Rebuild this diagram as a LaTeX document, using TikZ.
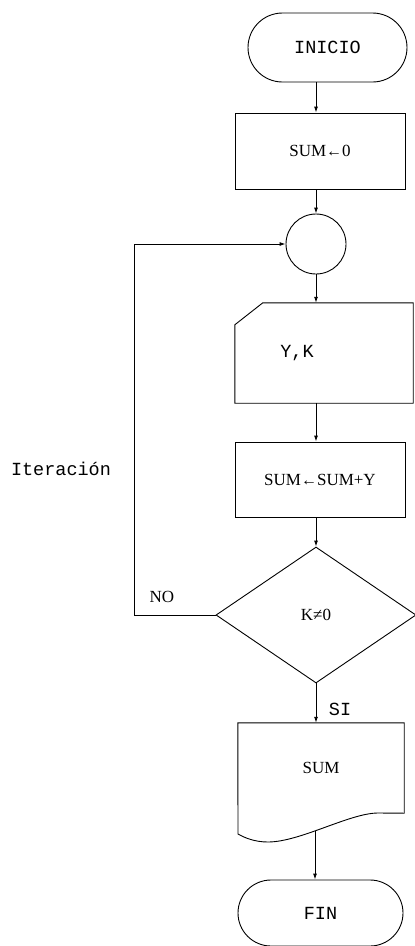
\documentclass[tikz,border=0pt]{standalone}
\usepackage{fontspec}
\setmainfont{Liberation Serif}
\setmonofont{Liberation Mono}
\usepackage{tikz}
\usetikzlibrary{arrows.meta,shapes.geometric,shapes.misc}
\newcommand{\asig}{{\fontsize{16}{16}\selectfont ←}}
\tikzset{
  maq/.style={font=\ttfamily\fontsize{18.5}{18.5}\selectfont},
  rom/.style={font=\fontsize{17}{17}\selectfont},
  terminal/.style={draw, rounded rectangle, line width=0.9pt, inner sep=0pt},
  proceso/.style={draw, rectangle, line width=0.9pt, inner sep=0pt, minimum width=170pt, minimum height=76pt},
  flecha/.style={line width=0.9pt, -{Latex[length=6pt,width=4pt]}},
}
\begin{document}
\begin{tikzpicture}[x=1pt,y=-1pt]
        \useasboundingbox (0,0) rectangle (415,946);
        % Start and first assignment
        \node[terminal, maq, minimum width=159pt, minimum height=69pt] (inicio) at (327.5,47.5) {INICIO};
        \node[proceso, rom] (suma0) at (320,151) {SUM\asig 0};
        \node[draw, circle, line width=0.9pt, minimum size=60pt, inner sep=0pt] (conn) at (316,244) {};
        % Read Y,K (card shape)
        \node[rectangle, minimum width=178pt, minimum height=100pt] (lee) at (324,353) {};
        \draw[line width=0.9pt] (lee.north east) -- (lee.south east) -- (lee.south west) -- ([yshift=-22pt]lee.north west) -- ([xshift=28pt]lee.north west) -- cycle;
        \node[maq] at ([xshift=-27pt]lee.center) {Y,K};
        \node[proceso, rom, minimum height=75pt] (acum) at (320,479.5) {SUM\asig SUM+Y};
        % Decision
        \node[draw, diamond, rom, line width=0.9pt, inner sep=0pt, minimum width=200pt, minimum height=136pt] (dec) at (316,615) {K≠0};
        % Output document with wavy bottom
        \node[rectangle, rom, minimum width=166pt, minimum height=90pt] (doc) at (321,768) {SUM};
        \draw[line width=0.9pt] (doc.south east) -- (doc.north east) -- (doc.north west) -- (238,834)
          .. controls (245,838) and (255,842) .. (268,842) .. controls (300,842) and (350,813) .. (378,813) -- cycle;
        \coordinate (docb) at (315,831);
        \node[terminal, maq, minimum width=165pt, minimum height=66pt] (fin) at (320.5,913) {FIN};
        % Connectors
        \draw[flecha] (inicio.south -| conn) -- (suma0.north -| conn);
        \draw[flecha] (suma0.south -| conn) -- (conn.north);
        \draw[flecha] (conn.south) -- (lee.north -| conn);
        \draw[flecha] (lee.south -| conn) -- (acum.north -| conn);
        \draw[flecha] (acum.south -| conn) -- (dec.north);
        \draw[flecha] (dec.south) -- (doc.north -| dec);
        \draw[flecha] (docb) -- (fin.north -| docb);
        % Loop back
        \coordinate (esq) at (134,615);
        \draw[flecha] (dec.west) -- (esq) |- (conn.west);
        \node[rom] (no) at (162,597) {NO};
        \node[maq] (si) at (340,709) {SI};
        \node[maq] (iter) at (61,469) {Iteración};
      \end{tikzpicture}
\end{document}
